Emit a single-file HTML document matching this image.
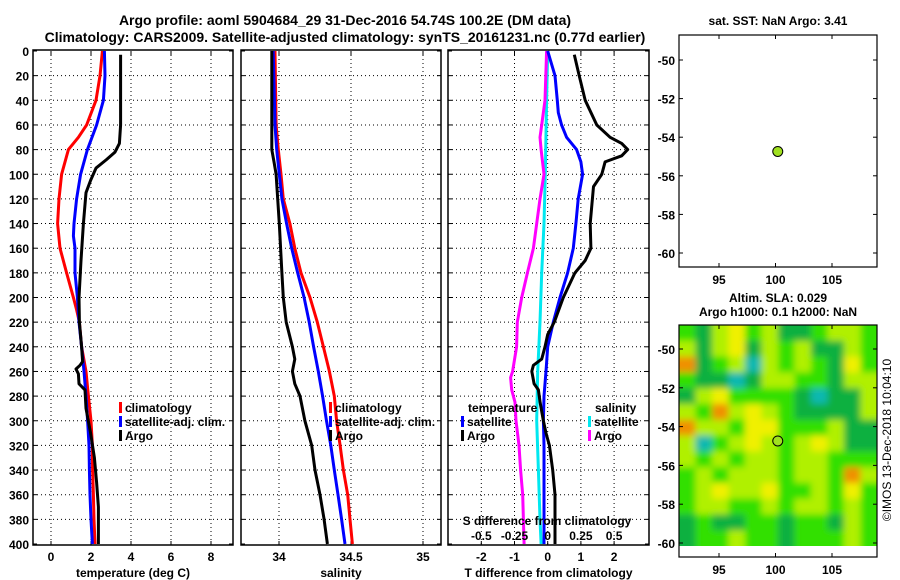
<!DOCTYPE html>
<html><head><meta charset="utf-8"><style>
html,body{margin:0;padding:0;background:#fff}
svg{display:block;font-family:"Liberation Sans",sans-serif;font-weight:bold}
</style></head><body>
<svg id="c" width="900" height="580" viewBox="0 0 900 580" xmlns="http://www.w3.org/2000/svg">
<text x="345" y="25" text-anchor="middle" font-size="14">Argo profile: aoml 5904684_29 31-Dec-2016 54.74S 100.2E (DM data)</text>
<text x="345" y="42" text-anchor="middle" font-size="14">Climatology: CARS2009. Satellite-adjusted climatology: synTS_20161231.nc (0.77d earlier)</text>
<text x="778" y="25" text-anchor="middle" font-size="12">sat. SST: NaN Argo: 3.41</text>
<text x="778" y="302" text-anchor="middle" font-size="12">Altim. SLA: 0.029</text>
<text x="778" y="316" text-anchor="middle" font-size="12">Argo h1000: 0.1 h2000: NaN</text>
<text transform="translate(891,440) rotate(-90)" text-anchor="middle" font-size="12" font-weight="normal">©IMOS 13-Dec-2018 10:04:10</text>
<g id="g"></g>
</svg>
<script>
// ---- data ----
const depthTicks=[0,20,40,60,80,100,120,140,160,180,200,220,240,260,280,300,320,340,360,380,400];
const tempTicks=[0,2,4,6,8];
const salTicks=[34,34.5,35];
const tdTicks=[-2,-1,0,1,2];
const sdTicks=[-0.5,-0.25,0,0.25,0.5];
const sdTickLabels=["-0.5","-0.25","0","0.25","0.5"];
const latTicks=[-50,-52,-54,-56,-58,-60];
const lonTicks=[95,100,105];

const climTempDepth=[0,20,40,60,70,80,100,120,140,160,180,200,210,220,240,260,280,300,320,340,360,380,400];
const climTemp=[2.57,2.45,2.25,1.78,1.37,0.87,0.53,0.4,0.33,0.45,0.78,1.12,1.28,1.42,1.53,1.75,1.87,2.0,2.07,2.08,2.12,2.15,2.2];
const satTempDepth=[0,20,40,60,80,100,120,140,150,160,180,200,220,240,260,280,300,320,340,360,380,400];
const satTemp=[2.67,2.7,2.62,2.28,1.82,1.48,1.28,1.15,1.12,1.2,1.2,1.32,1.4,1.53,1.65,1.75,1.83,1.9,1.92,1.95,2.0,2.07];
const argoTempDepth=[3,60,75,82,88,95,105,115,140,170,200,220,240,252,255,258,262,270,275,290,310,330,350,370,400];
const argoTemp=[3.48,3.48,3.42,3.2,2.78,2.25,1.98,1.75,1.62,1.5,1.4,1.42,1.53,1.58,1.45,1.25,1.37,1.4,1.7,1.75,1.98,2.17,2.28,2.37,2.37];

const climSalDepth=[0,60,80,100,120,140,160,180,200,220,240,260,280,300,320,340,360,380,400];
const climSal=[33.972,33.98,33.995,34.014,34.03,34.076,34.11,34.153,34.215,34.266,34.308,34.35,34.384,34.4,34.424,34.447,34.477,34.493,34.51];
const satSal=[33.96,33.972,33.984,34.002,34.02,34.053,34.088,34.13,34.174,34.21,34.24,34.273,34.303,34.33,34.36,34.384,34.41,34.435,34.458];
const argoSalDepth=[0,80,90,100,140,180,200,220,240,250,260,270,280,300,320,340,360,380,400];
const argoSal=[33.95,33.95,33.965,33.98,34.002,34.02,34.03,34.05,34.093,34.11,34.093,34.11,34.146,34.18,34.227,34.25,34.285,34.313,34.336];

const satTdDepth=[0,20,40,50,60,70,80,90,100,120,140,160,180,200,220,240,260,280,300,320,340,360,380,400];
const satTd=[0,0.22,0.29,0.32,0.42,0.57,0.87,1.0,1.05,0.92,0.85,0.77,0.6,0.37,0.17,0,-0.05,-0.11,-0.13,-0.11,-0.11,-0.11,-0.11,-0.11];
const argoTdDepth=[3,20,40,60,70,75,80,85,90,100,110,140,160,170,180,200,220,230,240,250,255,260,270,275,285,300,310,320,340,360,380,400];
const argoTd=[0.8,0.95,1.13,1.48,1.88,2.23,2.41,2.23,1.73,1.63,1.38,1.28,1.3,1.13,0.82,0.47,0.2,0,-0.08,-0.18,-0.43,-0.48,-0.41,-0.28,-0.23,-0.13,-0.05,0.05,0.15,0.22,0.22,0.22];
const satSdDepth=[0,40,100,140,180,220,260,300,340,380,400];
const satSd=[0,-0.008,-0.018,-0.028,-0.045,-0.058,-0.075,-0.083,-0.07,-0.058,-0.05];
const argoSdDepth=[0,40,60,70,80,100,120,140,160,180,200,220,240,260,265,275,285,300,320,340,360,380,400];
const argoSd=[-0.008,-0.02,-0.045,-0.058,-0.05,-0.028,-0.058,-0.083,-0.108,-0.153,-0.196,-0.229,-0.234,-0.264,-0.279,-0.271,-0.246,-0.239,-0.216,-0.204,-0.188,-0.183,-0.178];

const argoLon=[100.2], argoLat=[-54.74];
const slaGrid=[
[2,1,3,4,2,3,1,1,2,3,3,2],
[3,1,3,4,1,3,2,3,1,1,3,2],
[5,1,2,3,0,3,2,3,2,1,4,2],
[2,1,1,0,1,3,3,2,2,1,3,3],
[1,3,4,2,2,2,2,1,0,1,1,3],
[3,2,5,3,4,3,2,1,1,1,1,3],
[5,3,3,2,4,4,2,2,2,3,1,1],
[3,0,2,3,4,3,2,3,4,3,1,1],
[3,2,3,2,3,3,2,3,3,2,2,2],
[2,3,2,3,3,3,2,3,3,2,5,3],
[2,3,4,3,3,4,2,2,3,2,4,2],
[2,3,3,2,2,3,2,3,3,2,3,2],
[1,2,1,1,2,2,1,2,2,1,3,2],
[1,2,2,3,2,2,1,2,2,2,3,2]];
const slaColors=["#10b8b0","#08b040","#30e000","#b0f000","#f0f000","#f09000"];

// ---- rendering ----
const NS="http://www.w3.org/2000/svg";
const G=document.getElementById('g');
function el(t,a,p){const e=document.createElementNS(NS,t);for(const k in a)e.setAttribute(k,a[k]);(p||G).appendChild(e);return e;}
function lin(d0,d1,r0,r1){return v=>r0+(v-d0)*(r1-r0)/(d1-d0);}
const Y=lin(0,400,51,544);
const PT=51,PB=545;

function panel(name,x0,x1,X,xt,xlabels,title){
  const g=el('g',{});
  
  
  el('rect',{x:x0,y:PT-1,width:x1-x0,height:PB-PT+1,fill:'#fff',stroke:'none'},g);
  depthTicks.forEach(d=>{if(d>0&&d<400){const l=el('line',{x1:x0,x2:x1,y1:Y(d),y2:Y(d),stroke:'#000','stroke-width':1,'stroke-dasharray':'1,3'},g);
    }
    el('line',{x1:x0,x2:x0+4,y1:Y(d),y2:Y(d),stroke:'#000'},g);el('line',{x1:x1-4,x2:x1,y1:Y(d),y2:Y(d),stroke:'#000'},g);});
  xt.forEach((v,i)=>{const x=X(v);const l=el('line',{x1:x,x2:x,y1:PT,y2:PB,stroke:'#000','stroke-dasharray':'1,3'},g);
    
    el('line',{x1:x,x2:x,y1:PB-4,y2:PB,stroke:'#000'},g);el('line',{x1:x,x2:x,y1:PT,y2:PT+4,stroke:'#000'},g);
    const t=el('text',{x:x,y:561,'text-anchor':'middle','font-size':12},g);t.textContent=xlabels[i];
    });
  const t=el('text',{x:(x0+x1)/2,y:577,'text-anchor':'middle','font-size':12},g);t.textContent=title;
  
  return g;
}
function series(g,name,ds,vs,X,color){
  const p=el('polyline',{points:ds.map((d,i)=>X(vs[i]).toFixed(1)+','+Y(d).toFixed(1)).join(' '),fill:'none',stroke:color,'stroke-width':3,'stroke-linejoin':'round'},g);
  
}
function frame(g,x0,x1){el('rect',{x:x0,y:PT-1,width:x1-x0,height:PB-PT+1,fill:'none',stroke:'#000','stroke-width':1.5},g);}
function legend(g,x,y,color,label,name){
  el('rect',{x:x-1,y:y-10,width:3,height:11,fill:color},g);
  const t=el('text',{x:x+5,y:y,'font-size':12},g);t.textContent=label;
  
}
function txt(g,x,y,s,anchor,name){const t=el('text',{x:x,y:y,'font-size':12,'text-anchor':anchor||'start'},g);t.textContent=s;
  return t;}

depthTicks.forEach(d=>{const t=el('text',{x:29,y:Y(d)+5,'text-anchor':'end','font-size':12});t.textContent=d;
  });

const XT=lin(0,2,51,91);
const g1=panel('temperature-panel',33,233,XT,tempTicks,tempTicks.map(String),'temperature (deg C)');
series(g1,'clim-temp-line',climTempDepth,climTemp,XT,'#f00');
series(g1,'sat-temp-line',satTempDepth,satTemp,XT,'#00f');
series(g1,'argo-temp-line',argoTempDepth,argoTemp,XT,'#000');
legend(g1,120,412,'#f00','climatology','legend-climatology');
legend(g1,120,426,'#00f','satellite-adj. clim.','legend-satellite');
legend(g1,120,440,'#000','Argo','legend-argo');
frame(g1,33,233);

const XS=lin(34,34.5,279,351);
const g2=panel('salinity-panel',241,441,XS,salTicks,salTicks.map(String),'salinity');
series(g2,'clim-sal-line',climSalDepth,climSal,XS,'#f00');
series(g2,'sat-sal-line',climSalDepth,satSal,XS,'#00f');
series(g2,'argo-sal-line',argoSalDepth,argoSal,XS,'#000');
legend(g2,330,412,'#f00','climatology','legend-climatology');
legend(g2,330,426,'#00f','satellite-adj. clim.','legend-satellite');
legend(g2,330,440,'#000','Argo','legend-argo');
frame(g2,241,441);

const XD=lin(0,1,547.7,580.9);
const XSD=lin(0,0.25,547.7,580.9);
const g3=panel('difference-panel',448,649,XD,tdTicks,tdTicks.map(String),'T difference from climatology');
series(g3,'sat-sal-diff-line',satSdDepth,satSd,XSD,'#00e8f0');
series(g3,'argo-sal-diff-line',argoSdDepth,argoSd,XSD,'#f0f');
series(g3,'sat-temp-diff-line',satTdDepth,satTd,XD,'#00f');
series(g3,'argo-temp-diff-line',argoTdDepth,argoTd,XD,'#000');
txt(g3,468,412,'temperature','start','legend-temp-heading');
legend(g3,462,426,'#00f','satellite','legend-temp-satellite');
legend(g3,462,440,'#000','Argo','legend-temp-argo');
txt(g3,595,412,'salinity','start','legend-sal-heading');
legend(g3,589,426,'#00e8f0','satellite','legend-sal-satellite');
legend(g3,589,440,'#f0f','Argo','legend-sal-argo');
txt(g3,547,525,'S difference from climatology','middle','s-diff-axis-title');
sdTicks.forEach((v,i)=>txt(g3,XSD(v),540,sdTickLabels[i],'middle','s-diff-tick-label'));
frame(g3,448,649);

const LX=lin(95,105,719,832);
function map(name){
  const g=el('g',{});
  
  return g;
}
function mapAxes(g,top,bot,LY,axisY){
  el('rect',{x:679,y:top,width:198,height:bot-top,fill:'none',stroke:'#000','stroke-width':1.2},g);
  latTicks.forEach(v=>{const y=LY(v);el('line',{x1:679,x2:683,y1:y,y2:y,stroke:'#000'},g);el('line',{x1:873,x2:877,y1:y,y2:y,stroke:'#000'},g);
    txt(g,675,y+5,String(v),'end','lat-tick-label');});
  lonTicks.forEach(v=>{const x=LX(v);el('line',{x1:x,x2:x,y1:axisY-4,y2:axisY,stroke:'#000'},g);el('line',{x1:x,x2:x,y1:top,y2:top+4,stroke:'#000'},g);
    txt(g,x,axisY+17,String(v),'middle','lon-tick-label');});
}
const LY1=lin(-50,-60,60,253);
const m1=map('sst-map');
el('rect',{x:679,y:35,width:198,height:232,fill:'#fff'},m1);
mapAxes(m1,35,267,LY1,267);
const d1=el('circle',{cx:LX(argoLon[0]),cy:LY1(argoLat[0]),r:5,fill:'#a0e020',stroke:'#000','stroke-width':1},m1);


const LY2=lin(-50,-60,349,543);
const m2=map('sla-map');
const defs=el('defs',{});
const f=el('filter',{id:'bl',x:'-0.1',y:'-0.1',width:'1.2',height:'1.2'},defs);
el('feGaussianBlur',{stdDeviation:'3.5',edgeMode:'duplicate'},f);
el('clipPath',{id:'cp'},defs);
el('rect',{x:679,y:325,width:198,height:221},document.getElementById('cp'));
const hg=el('g',{'clip-path':'url(#cp)'},m2);
el('rect',{x:679,y:325,width:198,height:221,fill:'#50d820'},hg);
const hb=el('g',{filter:'url(#bl)'},hg);
const nr=slaGrid.length,nc=slaGrid[0].length,cw=198/nc,ch=221/nr;
slaGrid.forEach((row,r)=>row.forEach((v,c)=>{
  const cell=el('rect',{x:679+c*cw-(c===0?12:0),y:325+r*ch-(r===0?12:0),width:cw+0.5+(c===0||c===nc-1?12:0),height:ch+0.5+(r===0||r===nr-1?12:0),fill:slaColors[v]},hb);
  
  
}));
mapAxes(m2,325,557,LY2,557);
const d2=el('circle',{cx:LX(argoLon[0]),cy:LY2(argoLat[0]),r:5,fill:'#a0e020',stroke:'#000','stroke-width':1},m2);

</script>
</body></html>
